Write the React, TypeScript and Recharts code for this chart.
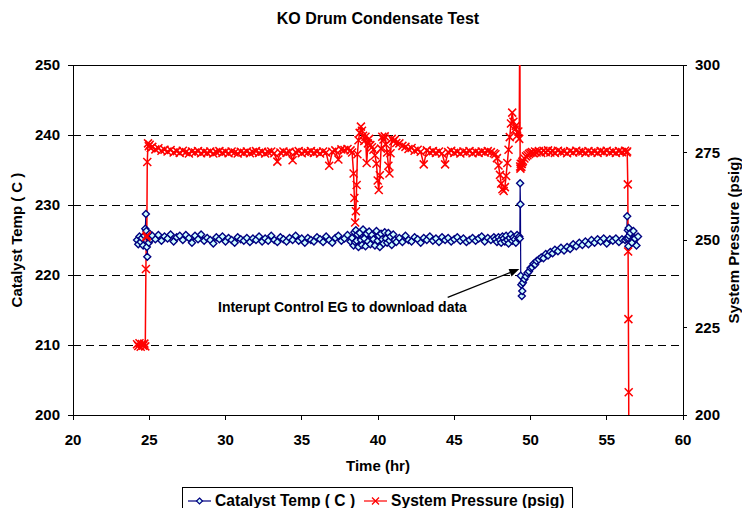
import { LineChart, Line, XAxis, YAxis, CartesianGrid, ReferenceLine, ReferenceDot, Legend } from 'recharts';

// time stamps (hr) shared by both series
const hours = [
  24.2, 24.28, 24.36, 24.44, 24.52, 24.6, 24.68, 24.74, 24.78, 24.81, 24.84, 24.87, 24.92, 24.97, 25.03, 25.1,
  25.2, 25.4, 25.6, 25.8, 26, 26.2, 26.4, 26.6, 26.8, 27, 27.2, 27.4, 27.6, 27.8, 28, 28.2, 28.4, 28.6, 28.8, 29,
  29.2, 29.4, 29.6, 29.8, 30, 30.2, 30.4, 30.6, 30.8, 31, 31.2, 31.4, 31.6, 31.8, 32, 32.2, 32.4, 32.6, 32.8, 33,
  33.2, 33.4, 33.6, 33.8, 34, 34.2, 34.4, 34.6, 34.8, 35, 35.2, 35.4, 35.6, 35.8, 36, 36.2, 36.4, 36.6, 36.8, 37,
  37.2, 37.4, 37.6, 37.8, 38, 38.2,
  38.3, 38.4, 38.45, 38.5, 38.55, 38.6, 38.65, 38.72, 38.8, 38.88, 38.95, 39.02, 39.1, 39.18, 39.26, 39.34, 39.42,
  39.5, 39.6, 39.7, 39.8, 39.9, 39.98, 40.05, 40.12, 40.2, 40.28, 40.36, 40.44, 40.52, 40.6, 40.68, 40.75, 40.82,
  40.9, 41.0, 41.1, 41.2,
  41.4, 41.6, 41.8, 42, 42.2, 42.4, 42.6, 42.8, 43, 43.2, 43.4, 43.6, 43.8, 44, 44.2, 44.4, 44.6, 44.8, 45, 45.2,
  45.4, 45.6, 45.8, 46, 46.2, 46.4, 46.6, 46.8, 47, 47.2, 47.4, 47.6,
  47.7, 47.8, 47.9, 48.0, 48.08, 48.16, 48.24, 48.32, 48.4, 48.48, 48.56, 48.64, 48.72, 48.8, 48.88, 48.96, 49.04,
  49.12, 49.2, 49.26,
  49.3, 49.32, 49.34, 49.36, 49.4, 49.43, 49.46,
  49.5, 49.6, 49.7, 49.8, 49.9, 50.0, 50.1, 50.2, 50.3, 50.4, 50.55, 50.7, 50.85, 51.0, 51.15, 51.3, 51.45, 51.6,
  51.8, 52.0, 52.2, 52.4, 52.6, 52.8, 53.0, 53.2, 53.4, 53.6, 53.8, 54.0, 54.2, 54.4, 54.6, 54.8, 55.0, 55.2, 55.4,
  55.6, 55.8, 56.0, 56.2, 56.3,
  56.34, 56.38, 56.4, 56.42, 56.44, 56.46, 56.55, 56.65, 56.75, 56.85, 56.95, 57.05,
];

const catalystTemp = [
  225.0, 224.4, 225.5, 224.7, 225.3, 224.2, 225.6, 226.6, 228.7, 226.3, 224.0, 222.6, 225.4, 224.6, 225.9, 225.1,
  225.6, 225.1, 225.7, 224.9, 225.5, 225.2, 225.8, 224.8, 225.4, 225.6,
  225.0, 225.7, 225.3, 224.6, 225.6, 225.1, 225.8, 224.9, 225.3, 225.0,
  224.5, 225.4, 225.1, 225.5, 224.8, 225.3, 225.0, 224.6, 225.4, 225.1,
  224.9, 225.3, 224.7, 225.2, 225.0, 225.5, 224.8, 225.2, 224.9, 225.6,
  225.0, 224.7, 225.4, 225.1, 224.8, 225.3, 225.0, 225.6, 224.9, 225.2,
  224.6, 225.3, 225.0, 224.8, 225.4, 225.1, 224.7, 225.5, 225.0, 224.6,
  225.3, 225.6, 224.9, 225.2, 225.7, 224.8,
  225.3, 224.2, 226.1, 224.7, 226.4, 224.9, 225.8, 224.0, 226.0, 225.0,
  224.3, 226.5, 225.2, 224.1, 225.9, 224.8, 226.2, 224.4, 225.7, 225.1,
  224.2, 226.3, 224.9, 225.6, 224.0, 225.9, 225.1, 224.5, 226.1, 225.2,
  224.6, 226.0, 224.9, 225.5, 224.3, 225.8, 225.0, 224.7,
  225.3, 224.7, 225.6, 225.0, 224.8, 225.4, 225.1, 224.6, 225.3, 225.0, 225.5, 224.9, 225.2, 224.7, 225.4, 225.0,
  225.3, 224.8, 225.1, 225.4, 224.9, 225.2, 224.7, 225.0, 225.3, 224.9, 225.2, 225.5, 224.8, 225.3, 225.0, 225.4,
  225.1, 224.7, 225.4, 225.0, 224.6, 225.5, 225.2, 224.8, 225.6, 225.0, 224.5, 225.3, 225.8, 224.9, 225.4, 225.1,
  224.6, 225.7, 225.2, 225.5,
  225.2, 233.1, 230.1, 219.9, 218.6, 217.0, 217.7,
  218.9, 219.4, 219.8, 220.3, 220.5, 221.0, 221.1, 221.6, 221.5, 222.0,
  222.2, 222.5, 222.4, 223.0, 222.8, 223.3, 223.1, 223.6, 223.4, 223.9,
  223.5, 224.0, 223.7, 224.4, 224.1, 224.6, 224.3, 224.8, 224.4, 225.0,
  224.6, 225.1, 224.8, 225.2, 224.5, 225.1, 224.9, 225.2, 224.7, 225.1, 225.0, 225.2,
  228.4, 226.4, 225.3, 224.1, 226.7, 225.6, 226.0, 224.6, 226.3, 225.2, 224.2, 225.5,
];

const systemPressure: (number | null)[] = [
  220.2, 219.7, 220.5, 219.5, 220.3, 219.8, 220.4, 219.6, 241.7, 250.9, 251.3, 272.3, 277.6, 276.8, 277.2, 276.3,
  276.6, 275.9, 276.2, 275.5, 275.8, 275.3, 275.7, 275.0, 275.4, 274.9,
  275.5, 275.1, 274.7, 275.3, 275.0, 275.4, 274.8, 275.2, 274.9, 275.3,
  274.7, 275.1, 275.4, 274.9, 275.2, 274.8, 275.3, 275.0, 274.7, 275.2,
  274.9, 275.3, 274.8, 275.1, 275.4, 274.9, 275.2, 274.7, 275.1, 275.3,
  274.8, 272.4, 275.0, 275.3, 274.9, 275.2, 272.8, 275.1, 275.4, 274.8,
  275.2, 275.0, 275.4, 274.9, 275.2, 274.7, 275.3, 275.0, 271.2, 275.2,
  275.6, 273.0, 275.9, 275.7, 276.0, 275.6,
  275.0, 269.0, 262.0, 255.0, 258.2, 265.7, 274.5, 278.5, 280.6, 282.4,
  281.2, 279.8, 278.3, 279.5, 272.0, 277.6, 278.9, 277.1, 276.5, 275.8,
  274.2, 271.8, 267.0, 264.3, 268.5, 276.1, 279.5, 278.7, 279.6, 277.3,
  275.0, 271.2, 269.0, 274.8, 278.9, 278.2, 278.6, 277.7,
  277.6, 276.9, 276.6, 276.0, 276.3, 275.5, 275.8, 275.2, 271.6, 275.6, 275.0, 275.4, 274.9, 275.3, 274.7, 271.6,
  275.1, 275.5, 274.9, 275.2, 274.7, 275.3, 275.0, 275.4, 274.8, 275.2, 274.9, 275.3, 275.0, 275.4, 275.1, 274.8,
  274.5, 273.4, 271.3, 268.6, 266.1, 264.5, 264.0, 265.1, 268.3, 272.0, 275.8, 279.4, 283.3, 286.4, 283.8, 281.5,
  282.6, 279.8, 281.0, 278.9,
  318.0, 271.0, 270.4, 271.8, 270.9, 271.7, 272.2,
  272.6, 273.3, 273.9, 274.2, 274.6, 274.9, 275.1, 274.8, 275.3, 275.0,
  275.4, 274.9, 275.5, 275.1, 275.6, 275.0, 275.4, 274.9, 275.5, 275.1,
  275.3, 274.8, 275.4, 275.0, 275.5, 275.1, 275.3, 274.9, 275.4, 275.0,
  275.3, 274.9, 275.4, 275.1, 275.5, 275.0, 275.3, 274.9, 275.4, 275.1, 275.5, 275.0,
  275.3, 265.9, 246.7, 227.4, 206.5, 150.0, null, null, null, null, null, null,
];

const timeTicks = [20, 25, 30, 35, 40, 45, 50, 55, 60];
const tempTicks = [200, 210, 220, 230, 240, 250];
const pressureTicks = [200, 225, 250, 275, 300];

const noteText = 'Interupt Control EG to download data';

const data = hours.map((hr, i) => ({ hr, temp: catalystTemp[i], pressure: systemPressure[i] }));

const NAVY = '#000080';
const RED = '#ff0000';
const FONT = '"Liberation Sans", Arial, sans-serif';

const Diamond = (props: any) => {
  const { cx, cy, index } = props;
  if (cx == null || cy == null) return null;
  const s = 3.5;
  return (
    <path
      key={`d-${index}`}
      d={`M${cx},${cy - s}L${cx + s},${cy}L${cx},${cy + s}L${cx - s},${cy}Z`}
      fill="#ccffff"
      stroke={NAVY}
      strokeWidth={1.4}
    />
  );
};

const Cross = (props: any) => {
  const { cx, cy, index } = props;
  if (cx == null || cy == null) return null;
  const s = 4;
  return (
    <path
      key={`x-${index}`}
      d={`M${cx - s},${cy - s}L${cx + s},${cy + s}M${cx - s},${cy + s}L${cx + s},${cy - s}`}
      stroke={RED}
      strokeWidth={1.5}
      fill="none"
    />
  );
};

const Arrow = (props: any) => {
  const { x1, y1, x2, y2 } = props;
  const ang = Math.atan2(y2 - y1, x2 - x1);
  const len = 10;
  const w = 4;
  const bx = x2 - len * Math.cos(ang);
  const by = y2 - len * Math.sin(ang);
  const px = -Math.sin(ang) * w;
  const py = Math.cos(ang) * w;
  return (
    <g>
      <line x1={x1} y1={y1} x2={bx} y2={by} stroke="#000" strokeWidth={1.2} />
      <path d={`M${x2},${y2}L${bx + px},${by + py}L${bx - px},${by - py}Z`} fill="#000" />
    </g>
  );
};

const Note = (props: any) => (
  <text
    x={props.cx}
    y={props.cy}
    textAnchor="middle"
    dominantBaseline="middle"
    fontSize={14}
    fontWeight="bold"
    fill="#000"
  >
    {noteText}
  </text>
);

const LegendBox = (props: any) => {
  const items = props.payload || [];
  return (
    <div
      style={{
        border: '1px solid #000',
        height: 27,
        boxSizing: 'border-box',
        display: 'flex',
        alignItems: 'center',
        background: '#fff',
        fontSize: 15.6,
        fontWeight: 'bold',
        whiteSpace: 'nowrap',
        fontFamily: FONT,
        color: '#000',
      }}
    >
      {items.map((it: any, i: number) => (
        <div key={it.value} style={{ display: 'flex', alignItems: 'center', marginLeft: i === 0 ? 5 : 9 }}>
          <svg width={23} height={10}>
            <line x1={0} y1={5} x2={23} y2={5} stroke={it.color} strokeWidth={1.2} />
            {it.dataKey === 'temp' ? (
              <path d="M11.5,2L14.5,5L11.5,8L8.5,5Z" fill="#ccffff" stroke={NAVY} strokeWidth={1.2} />
            ) : (
              <path d="M8,1.5L15,8.5M8,8.5L15,1.5" stroke={RED} strokeWidth={1.3} />
            )}
          </svg>
          <span style={{ marginLeft: 4 }}>{it.value}</span>
        </div>
      ))}
    </div>
  );
};

const tickStyle = { fill: '#000', fontSize: 15, fontWeight: 'bold' };
const axisLineStyle = { stroke: '#000', shapeRendering: 'crispEdges' };

export default function App() {
  return (
    <div
      style={{
        position: 'absolute',
        left: 0,
        top: 0,
        width: 742,
        height: 508,
        overflow: 'hidden',
        background: '#fff',
        fontFamily: FONT,
      }}
    >
      <div
        style={{
          position: 'absolute',
          left: 0,
          top: 10,
          width: 756,
          textAlign: 'center',
          fontSize: 16,
          fontWeight: 'bold',
          color: '#000',
        }}
      >
        KO Drum Condensate Test
      </div>
      <LineChart width={742} height={508} data={data} margin={{ top: 65, right: 9, bottom: 33, left: 23 }}>
        <CartesianGrid
          yAxisId="left"
          vertical={false}
          stroke="#000"
          strokeDasharray="8 5"
          shapeRendering="crispEdges"
        />
        <XAxis
          dataKey="hr"
          type="number"
          domain={[20, 60]}
          ticks={timeTicks}
          interval={0}
          height={60}
          tickSize={5}
          tickMargin={14}
          axisLine={axisLineStyle}
          tickLine={axisLineStyle}
          tick={tickStyle}
          label={{ value: 'Time (hr)', position: 'center', dy: 21, fill: '#000', fontSize: 15, fontWeight: 'bold' }}
        />
        <YAxis
          yAxisId="left"
          domain={[200, 250]}
          ticks={tempTicks}
          interval={0}
          width={50}
          tickSize={5}
          tickMargin={8}
          axisLine={axisLineStyle}
          tickLine={axisLineStyle}
          tick={tickStyle}
          label={{
            value: 'Catalyst Temp ( C )',
            angle: -90,
            position: 'center',
            dx: -31,
            fill: '#000',
            fontSize: 15,
            fontWeight: 'bold',
          }}
        />
        <YAxis
          yAxisId="right"
          orientation="right"
          domain={[200, 300]}
          ticks={pressureTicks}
          interval={0}
          allowDataOverflow
          width={50}
          tickSize={4}
          tickMargin={8}
          axisLine={axisLineStyle}
          tickLine={axisLineStyle}
          tick={tickStyle}
          label={{
            value: 'System Pressure (psig)',
            angle: -90,
            position: 'center',
            dx: 26,
            fill: '#000',
            fontSize: 15,
            fontWeight: 'bold',
          }}
        />
        <ReferenceLine yAxisId="left" y={250} stroke="#000" strokeWidth={1} shapeRendering="crispEdges" />
        <Line
          yAxisId="left"
          type="linear"
          dataKey="temp"
          name="Catalyst Temp ( C )"
          stroke={NAVY}
          strokeWidth={1.2}
          dot={Diamond}
          activeDot={false}
          isAnimationActive={false}
        />
        <Line
          yAxisId="right"
          type="linear"
          dataKey="pressure"
          name="System Pressure (psig)"
          stroke={RED}
          strokeWidth={1.5}
          dot={Cross}
          activeDot={false}
          isAnimationActive={false}
        />
        <ReferenceLine
          yAxisId="left"
          segment={[
            { x: 44.57, y: 216.8 },
            { x: 49.27, y: 220.86 },
          ]}
          shape={Arrow}
        />
        <ReferenceDot yAxisId="left" x={37.67} y={215.3} r={0} shape={Note} />
        <Legend
          verticalAlign="middle"
          align="center"
          layout="horizontal"
          wrapperStyle={{ left: 182, top: 487, width: 391 }}
          content={LegendBox}
        />
      </LineChart>
    </div>
  );
}
